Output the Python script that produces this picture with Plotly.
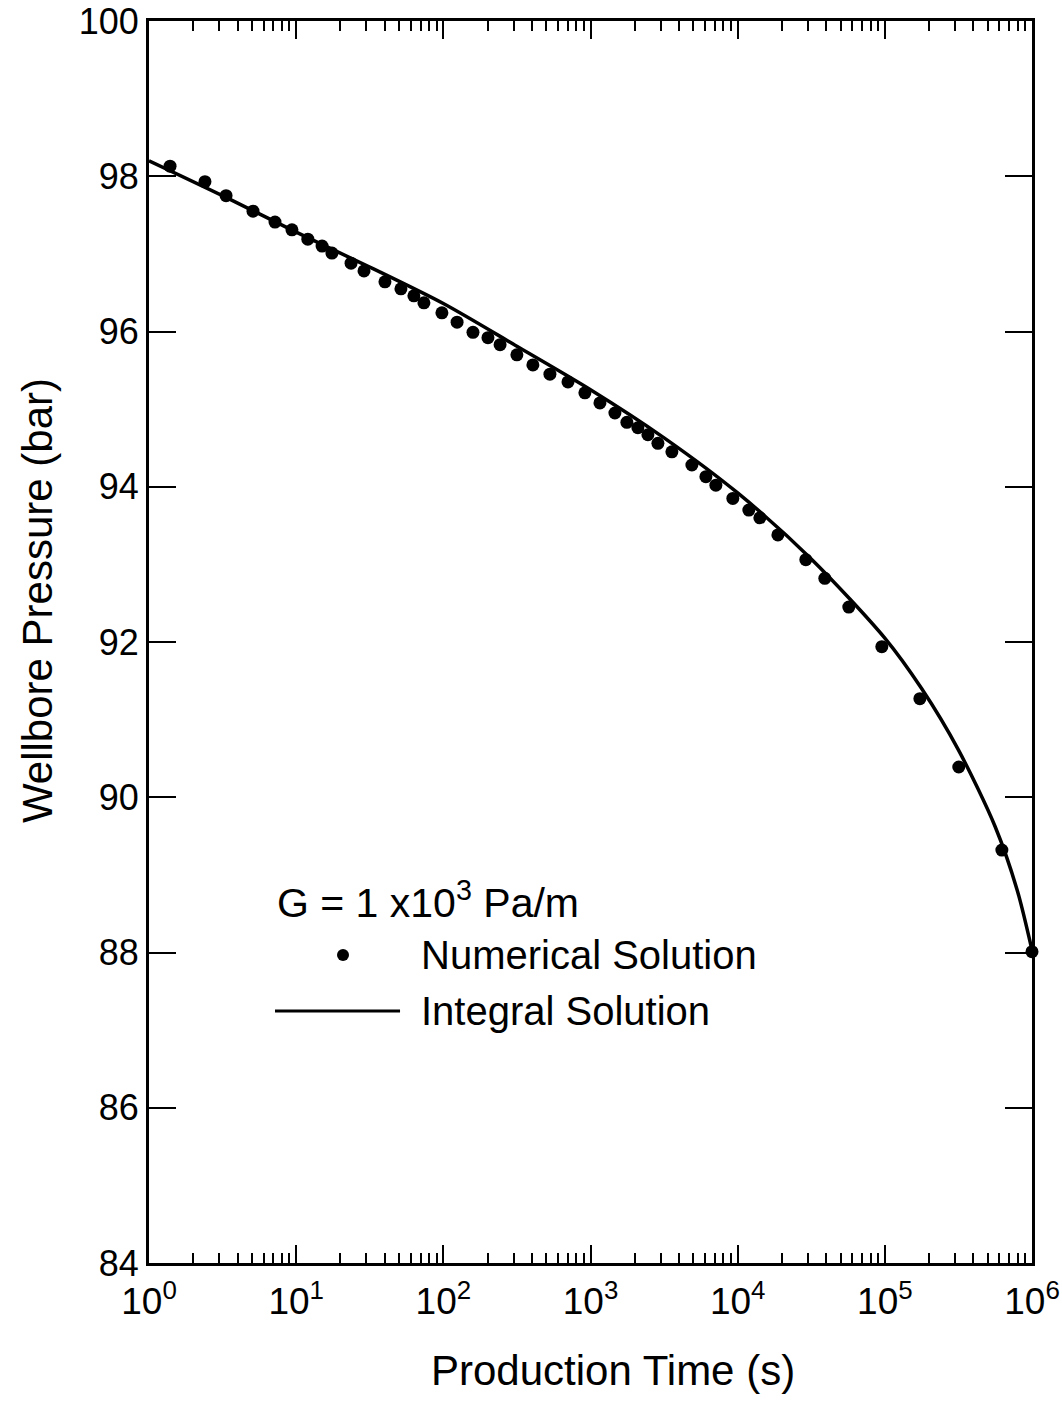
import plotly.graph_objects as go

# ---- data ----
num_time = [1.39, 2.40, 3.34, 5.09, 7.18, 9.36, 12.0, 15.0, 17.5, 23.6, 28.9, 40.1, 51.5, 63.1,
            73.8, 97.8, 124, 159, 201, 243, 316, 406, 530, 703, 916, 1159, 1465, 1767, 2099,
            2455, 2871, 3573, 4886, 6082, 7110, 9270, 11910, 14150, 18760, 29040, 39100,
            56900, 95400, 173000, 318000, 624000, 1000000]
num_pressure = [98.13, 97.93, 97.75, 97.55, 97.41, 97.31, 97.19, 97.10, 97.01, 96.88, 96.78,
                96.64, 96.55, 96.46, 96.37, 96.24, 96.12, 95.99, 95.92, 95.83, 95.70, 95.57,
                95.45, 95.35, 95.21, 95.08, 94.95, 94.83, 94.76, 94.67, 94.56, 94.45, 94.28,
                94.13, 94.02, 93.85, 93.70, 93.60, 93.38, 93.06, 92.82, 92.45, 91.94, 91.27,
                90.39, 89.32, 88.01]

int_time = [1, 3.16, 10, 31.6, 100, 316, 1000, 3162, 10000, 31620, 100000, 177800,
            316200, 562300, 794300, 1000000]
int_pressure = [98.20, 97.75, 97.28, 96.83, 96.36, 95.81, 95.25, 94.63, 93.92, 93.07, 92.05,
                91.40, 90.61, 89.62, 88.80, 88.03]

x_tickvals = [1, 10, 100, 1000, 10000, 100000, 1000000]
x_ticktext = ["10<sup>0</sup>", "10<sup>1</sup>", "10<sup>2</sup>", "10<sup>3</sup>",
              "10<sup>4</sup>", "10<sup>5</sup>", "10<sup>6</sup>"]
y_tickvals = [84, 86, 88, 90, 92, 94, 96, 98, 100]

FONT = "Liberation Sans, Arial, Helvetica, sans-serif"

fig = go.Figure()
fig.add_trace(go.Scatter(x=int_time, y=int_pressure, mode="lines",
                         line=dict(color="black", width=3.5, shape="spline", smoothing=0.8),
                         cliponaxis=False, showlegend=False, name="Integral Solution"))
fig.add_trace(go.Scatter(x=num_time, y=num_pressure, mode="markers",
                         marker=dict(color="black", size=13),
                         cliponaxis=False, showlegend=False, name="Numerical Solution"))

axis_common = dict(showline=True, linecolor="black", linewidth=3, mirror="ticks",
                   ticks="inside", tickcolor="black", showgrid=False, zeroline=False,
                   automargin=False, ticklabeloverflow="allow")

fig.update_xaxes(type="log", range=[0, 6], tickvals=x_tickvals, ticktext=x_ticktext,
                 ticklen=18, tickwidth=2, ticklabelstandoff=4,
                 tickfont=dict(family=FONT, size=37, color="black"),
                 minor=dict(ticks="inside", ticklen=10, tickwidth=1.5, tickcolor="black",
                            dtick="D1", showgrid=False),
                 **axis_common)
fig.update_yaxes(range=[84, 100], tickvals=y_tickvals, ticklen=27, tickwidth=2,
                 tickfont=dict(family=FONT, size=36, color="black"),
                 **axis_common)

# axis titles
fig.add_annotation(text="Production Time (s)", xref="paper", yref="paper",
                   x=0.5255, y=-0.0862, xanchor="center", yanchor="middle", showarrow=False,
                   font=dict(family=FONT, size=42, color="black"))
fig.add_annotation(text="Wellbore Pressure (bar)", xref="paper", yref="paper",
                   x=-0.1268, y=0.533, xanchor="center", yanchor="middle", showarrow=False,
                   textangle=-90, font=dict(family=FONT, size=42, color="black"))

# legend block
fig.add_annotation(text="G = 1 x10<sup>3</sup> Pa/m", xref="paper", yref="paper",
                   x=0.1427, y=0.292, xanchor="left", yanchor="middle", showarrow=False,
                   font=dict(family=FONT, size=41, color="black"))
fig.add_annotation(text="Numerical Solution", xref="paper", yref="paper",
                   x=0.3058, y=0.248, xanchor="left", yanchor="middle", showarrow=False,
                   font=dict(family=FONT, size=40, color="black"))
fig.add_annotation(text="Integral Solution", xref="paper", yref="paper",
                   x=0.3058, y=0.2029, xanchor="left", yanchor="middle", showarrow=False,
                   font=dict(family=FONT, size=40, color="black"))
fig.add_shape(type="line", xref="paper", yref="paper", x0=0.1427, x1=0.2843,
              y0=0.2029, y1=0.2029, line=dict(color="black", width=3))
fig.add_shape(type="circle", xref="paper", yref="paper", xsizemode="pixel", ysizemode="pixel",
              xanchor=0.2197, yanchor=0.248, x0=-6, x1=6, y0=-6, y1=6,
              fillcolor="black", line=dict(color="black", width=0))

fig.update_layout(width=1062, height=1402, margin=dict(l=149, r=30, t=21, b=139),
                  paper_bgcolor="white", plot_bgcolor="white",
                  font=dict(family=FONT, color="black"))

# remove the default page-body margin so the figure sits at the window's top-left corner
fig.write_html("out.html", config={"displayModeBar": False},
               post_script="document.body.style.margin='0';document.body.style.overflow='hidden';")
